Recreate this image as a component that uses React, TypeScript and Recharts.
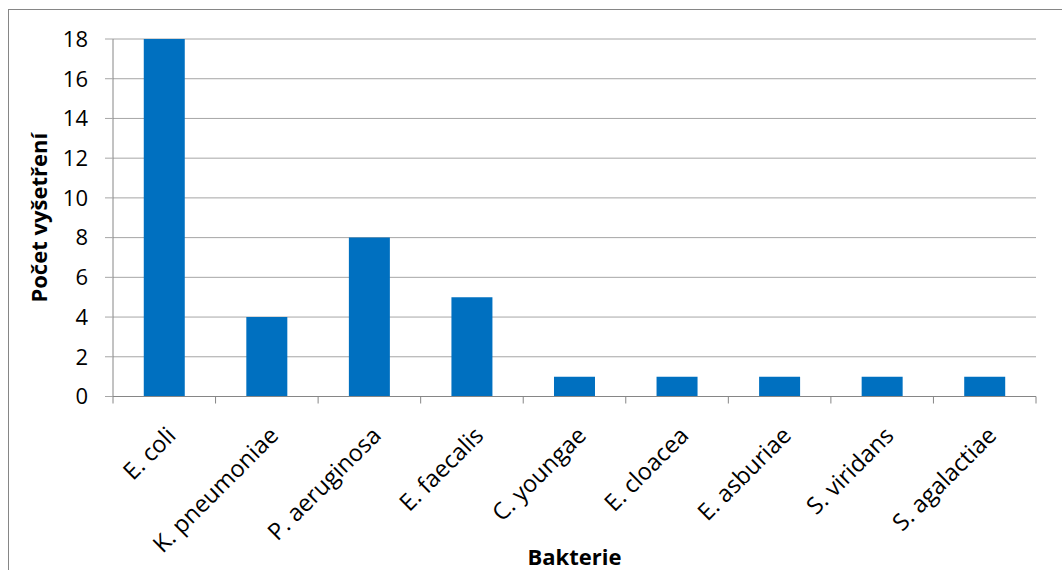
import React from 'react';
import { BarChart, Bar, XAxis, YAxis, CartesianGrid } from 'recharts';

// Number of examinations per bacterial species
const categories = [
  'E. coli',
  'K. pneumoniae',
  'P. aeruginosa',
  'E. faecalis',
  'C. youngae',
  'E. cloacea',
  'E. asburiae',
  'S. viridans',
  'S. agalactiae',
];
const counts = [18, 4, 8, 5, 1, 1, 1, 1, 1];
const yTicks = [0, 2, 4, 6, 8, 10, 12, 14, 16, 18];

const data = categories.map((name, i) => ({ name, count: counts[i] }));

const FONT = '"Open Sans", Lato, sans-serif';
const FS = 22;
const FS_CAT = 23.5;
const AXIS = '#868686';
const GRID = '#a6a6a6';
const BAR = '#0070C0';

const CHART_W = 1053;
const CHART_H = 560;
const MARGIN = { top: 29, right: 26, left: 0, bottom: 0 };
const Y_AXIS_W = 104;
const PLOT_BOTTOM = 386.5;
const X_AXIS_H = CHART_H - PLOT_BOTTOM;
const BAND = (CHART_W - MARGIN.left - MARGIN.right - Y_AXIS_W) / categories.length;

// Category tick: boundary tick marks plus a label rotated by -45 degrees
const CategoryTick = (props: any) => {
  const { x, y, payload, index } = props;
  const half = payload && typeof payload.offset === 'number' && payload.offset > 0 ? payload.offset : BAND / 2;
  const isLast = index === categories.length - 1;
  const tx = x + 13;
  const ty = y + 40.5;
  return (
    <g>
      <line x1={x - half} x2={x - half} y1={y} y2={y + 7} stroke={AXIS} strokeWidth={1} />
      {isLast && <line x1={x + half} x2={x + half} y1={y} y2={y + 7} stroke={AXIS} strokeWidth={1} />}
      <text
        x={tx}
        y={ty}
        transform={`rotate(-45, ${tx}, ${ty})`}
        textAnchor="end"
        fontFamily={FONT}
        fontSize={FS_CAT}
        fill="#000"
      >
        {payload.value}
      </text>
    </g>
  );
};

const YTitle = (props: any) => {
  const vb = props.viewBox || { x: 0, y: MARGIN.top, width: Y_AXIS_W, height: PLOT_BOTTOM - MARGIN.top };
  const cx = vb.x + 29;
  const cy = vb.y + vb.height / 2;
  return (
    <text
      x={cx}
      y={cy}
      transform={`rotate(-90, ${cx}, ${cy})`}
      textAnchor="middle"
      dominantBaseline="central"
      fontFamily={FONT}
      fontWeight="bold"
      fontSize={FS}
      fill="#000"
    >
      Počet vyšetření
    </text>
  );
};

const XTitle = (props: any) => {
  const vb = props.viewBox || { x: Y_AXIS_W, y: PLOT_BOTTOM, width: BAND * categories.length, height: X_AXIS_H };
  return (
    <text
      x={vb.x + vb.width / 2}
      y={vb.y + 168.5}
      textAnchor="middle"
      fontFamily={FONT}
      fontWeight="bold"
      fontSize={FS}
      fill="#000"
    >
      Bakterie
    </text>
  );
};

export default function App() {
  return (
    <div
      style={{
        position: 'absolute',
        left: 8,
        top: 9,
        width: CHART_W,
        height: CHART_H,
        borderLeft: `1px solid ${AXIS}`,
        borderTop: `1px solid ${AXIS}`,
        background: '#fff',
      }}
    >
      <BarChart width={CHART_W} height={CHART_H} data={data} margin={MARGIN} barCategoryGap="30%">
        <CartesianGrid vertical={false} stroke={GRID} strokeWidth={1} />
        <XAxis
          dataKey="name"
          interval={0}
          height={X_AXIS_H}
          tickSize={0}
          tickMargin={0}
          tickLine={false}
          axisLine={{ stroke: AXIS }}
          tick={<CategoryTick />}
          label={(p: any) => <XTitle {...p} />}
        />
        <YAxis
          width={Y_AXIS_W}
          domain={[0, 18]}
          ticks={yTicks}
          interval={0}
          tickSize={8}
          tickMargin={17}
          axisLine={{ stroke: AXIS }}
          tickLine={{ stroke: GRID }}
          tick={{ fontFamily: FONT, fontSize: FS, fill: '#000' }}
          label={(p: any) => <YTitle {...p} />}
        />
        <Bar dataKey="count" fill={BAR} isAnimationActive={false} />
      </BarChart>
    </div>
  );
}
